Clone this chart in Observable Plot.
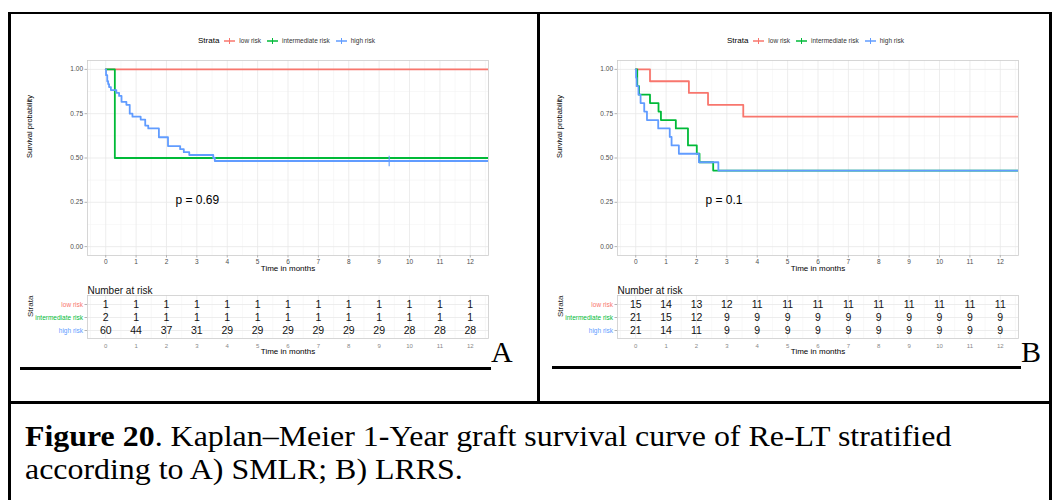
<!DOCTYPE html>
<html><head><meta charset="utf-8">
<script src="https://cdn.jsdelivr.net/npm/d3@7"></script>
<script src="https://cdn.jsdelivr.net/npm/@observablehq/plot@0.6"></script>
<style>
body{margin:0;background:#fff;}
#root{position:relative;width:1054px;height:500px;overflow:hidden;font-family:"Liberation Sans",Arial,sans-serif;background:#fff;}
.bar{position:absolute;background:#000;}
.legend{position:absolute;display:flex;align-items:center;white-space:nowrap;color:#1a1a1a;}
.legend .title{font-size:8px;margin-right:5px;color:#000;}
.legend .lab{font-size:6.5px;margin:0 6px 0 4px;color:#333;}
.serif{font-family:"Liberation Serif","Times New Roman",serif;position:absolute;white-space:nowrap;color:#000;}
</style></head><body><div id="root"></div>
<script>
// ---------- data ----------
const strata = ["low risk", "intermediate risk", "high risk"];
const strataColors = ["#F8766D", "#00BA38", "#619CFF"];
const timeTicks = [0,1,2,3,4,5,6,7,8,9,10,11,12];
const survTicks = [0, 0.25, 0.5, 0.75, 1];

// Panel A (SMLR)
const aLowTime = [0, 12.6];
const aLowSurv = [1, 1];
const aIntTime = [0, 0.3, 12.6];
const aIntSurv = [1, 0.5, 0.5];
const aHighTime = [0, 0.01, 0.05, 0.08, 0.11, 0.17, 0.35, 0.44, 0.52, 0.68, 0.79, 0.88, 1.15, 1.30, 1.40, 1.75, 2.05, 2.45, 2.57, 2.75, 3.54, 3.59, 12.6];
const aHighSurv = [1, 0.967, 0.933, 0.917, 0.9, 0.883, 0.867, 0.85, 0.817, 0.8, 0.75, 0.733, 0.717, 0.683, 0.667, 0.617, 0.567, 0.55, 0.533, 0.517, 0.5, 0.483, 0.483];
const aCensorTime = [9.33];
const aCensorSurv = [0.483];
const aCensorStrata = ["high risk"];
const aPLabel = "p = 0.69";
const aRiskLow = [1,1,1,1,1,1,1,1,1,1,1,1,1];
const aRiskInt = [2,1,1,1,1,1,1,1,1,1,1,1,1];
const aRiskHigh = [60,44,37,31,29,29,29,29,29,29,28,28,28];

// Panel B (LRRS)
const bLowTime = [0, 0.47, 1.75, 2.38, 3.54, 12.6];
const bLowSurv = [1, 0.933, 0.867, 0.8, 0.733, 0.733];
const bIntTime = [0, 0.05, 0.11, 0.47, 0.75, 0.83, 1.32, 1.72, 2.01, 2.1, 2.55, 12.6];
const bIntSurv = [1, 0.905, 0.857, 0.81, 0.762, 0.714, 0.667, 0.571, 0.524, 0.476, 0.429, 0.429];
const bHighTime = [0, 0.01, 0.03, 0.09, 0.16, 0.28, 0.37, 0.74, 1.12, 1.18, 1.42, 2.08, 2.72, 12.6];
const bHighSurv = [1, 0.952, 0.905, 0.857, 0.81, 0.762, 0.714, 0.667, 0.619, 0.571, 0.524, 0.476, 0.429, 0.429];
const bCensorTime = [];
const bCensorSurv = [];
const bCensorStrata = [];
const bPLabel = "p = 0.1";
const bRiskLow = [15,14,13,12,11,11,11,11,11,11,11,11,11];
const bRiskInt = [21,15,12,9,9,9,9,9,9,9,9,9,9];
const bRiskHigh = [21,14,11,9,9,9,9,9,9,9,9,9,9];

// ---------- helpers ----------
const root = document.getElementById("root");
function place(el, left, top) {
  el.style.position = "absolute";
  el.style.left = left + "px";
  el.style.top = top + "px";
  root.appendChild(el);
  return el;
}
function bar(l, t, w, h) {
  const d = document.createElement("div");
  d.className = "bar";
  d.style.left = l + "px"; d.style.top = t + "px"; d.style.width = w + "px"; d.style.height = h + "px";
  root.appendChild(d);
}
const minorX = timeTicks.map(d => d - 0.5).concat([12.5]);
const minorY = [0.125, 0.375, 0.625, 0.875];
const FONT = "Liberation Sans, Arial, sans-serif";
const GRID = "#e8e8e8", GRIDMINOR = "#f3f3f3", BORDER = "#cccccc", TICK = "#b3b3b3", TICKTXT = "#4d4d4d";

function kmPlot(curves, censor, pLabel) {
  const rows = [];
  curves.forEach((c, i) => c.time.forEach((t, j) => rows.push({t, s: c.surv[j], g: strata[i]})));
  const cens = censor.time.map((t, j) => ({t, s: censor.surv[j], g: censor.strata[j]}));
  return Plot.plot({
    width: 490, height: 225,
    marginLeft: 77, marginRight: 12, marginTop: 10, marginBottom: 20,
    style: {fontFamily: FONT, fontSize: "6.5px", background: "transparent", overflow: "visible"},
    x: {domain: [-0.6, 12.6]},
    y: {domain: [-0.05, 1.05]},
    color: {domain: strata, range: strataColors},
    marks: [
      Plot.gridX(minorX, {stroke: GRIDMINOR, strokeOpacity: 1, strokeWidth: 0.6}),
      Plot.gridY(minorY, {stroke: GRIDMINOR, strokeOpacity: 1, strokeWidth: 0.6}),
      Plot.gridX(timeTicks, {stroke: GRID, strokeOpacity: 1, strokeWidth: 0.8}),
      Plot.gridY(survTicks, {stroke: GRID, strokeOpacity: 1, strokeWidth: 0.8}),
      Plot.frame({stroke: BORDER, strokeWidth: 0.8}),
      Plot.axisX(timeTicks, {tickSize: 2.5, tickPadding: 1.5, stroke: TICK, fill: TICKTXT, label: null, tickFormat: d => String(d)}),
      Plot.axisY(survTicks, {tickSize: 2.5, tickPadding: 2, stroke: TICK, fill: TICKTXT, label: null, tickFormat: d => d.toFixed(2)}),
      Plot.text(["Time in months"], {frameAnchor: "bottom", dy: 15, fontSize: 8, fill: "#000"}),
      Plot.text(["Survival probability"], {frameAnchor: "left", dx: -58, rotate: -90, fontSize: 7.5, fill: "#000"}),
      Plot.line(rows, {x: "t", y: "s", z: "g", stroke: "g", curve: "step-after", strokeWidth: 1.8, clip: true}),
      Plot.dot(cens, {x: "t", y: "s", stroke: "g", symbol: "plus", r: 3.5, strokeWidth: 1.1}),
      Plot.text([pLabel], {frameAnchor: "bottom-left", dx: 88, dy: -52, textAnchor: "start", fontSize: 12, fill: "#000"})
    ]
  });
}

function riskPlot(risks) {
  const rows = [];
  risks.forEach((r, i) => r.forEach((n, j) => rows.push({t: timeTicks[j], g: strata[i], n})));
  return Plot.plot({
    width: 490, height: 85,
    marginLeft: 77, marginRight: 12, marginTop: 17, marginBottom: 25,
    style: {fontFamily: FONT, fontSize: "6.5px", background: "transparent", overflow: "visible"},
    x: {domain: [-0.6, 12.6]},
    y: {type: "point", domain: strata, padding: 0.6},
    color: {domain: strata, range: strataColors},
    marks: [
      Plot.gridX(minorX, {stroke: GRIDMINOR, strokeOpacity: 1, strokeWidth: 0.6}),
      Plot.gridX(timeTicks, {stroke: GRID, strokeOpacity: 1, strokeWidth: 0.8}),
      Plot.gridY(strata, {stroke: GRID, strokeOpacity: 1, strokeWidth: 0.8}),
      Plot.frame({stroke: BORDER, strokeWidth: 0.8}),
      Plot.axisX(timeTicks, {tickSize: 0, tickPadding: 5, fill: "#888", label: null, tickFormat: d => String(d), fontSize: 6}),
      Plot.axisY(strata, {tickSize: 2.5, stroke: TICK, label: null, tickFormat: () => ""}),
      Plot.text(strata, {y: d => d, frameAnchor: "left", dx: -4.5, textAnchor: "end", fill: d => d, fontSize: 6.5}),
      Plot.text(rows, {x: "t", y: "g", text: "n", fontSize: 10.5, fill: "#111"}),
      Plot.text(["Number at risk"], {frameAnchor: "top-left", dy: -9, textAnchor: "start", fontSize: 10, fill: "#111"}),
      Plot.text(["Time in months"], {frameAnchor: "bottom", dy: 15.5, fontSize: 8, fill: "#000"}),
      Plot.text(["Strata"], {frameAnchor: "left", dx: -57, rotate: -90, fontSize: 8, fill: "#222"})
    ]
  });
}

function legend(left, top) {
  const d = document.createElement("div");
  d.className = "legend";
  let html = '<span class="title">Strata</span>';
  strata.forEach((s, i) => {
    html += `<svg width="11" height="8"><line x1="0" y1="4" x2="11" y2="4" stroke="${strataColors[i]}" stroke-width="1.5"/><line x1="5.5" y1="1" x2="5.5" y2="7" stroke="${strataColors[i]}" stroke-width="1"/></svg><span class="lab">${s}</span>`;
  });
  d.innerHTML = html;
  place(d, left, top);
}

// ---------- panel A ----------
place(kmPlot(
  [{time: aLowTime, surv: aLowSurv}, {time: aIntTime, surv: aIntSurv}, {time: aHighTime, surv: aHighSurv}],
  {time: aCensorTime, surv: aCensorSurv, strata: aCensorStrata}, aPLabel), 10, 50);
place(riskPlot([aRiskLow, aRiskInt, aRiskHigh]), 10, 278);
legend(198, 36);

// ---------- panel B ----------
place(kmPlot(
  [{time: bLowTime, surv: bLowSurv}, {time: bIntTime, surv: bIntSurv}, {time: bHighTime, surv: bHighSurv}],
  {time: bCensorTime, surv: bCensorSurv, strata: bCensorStrata}, bPLabel), 540, 50);
place(riskPlot([bRiskLow, bRiskInt, bRiskHigh]), 540, 278);
legend(727, 36);

// ---------- frame, underlines, letters, caption ----------
bar(8, 12, 1044, 2);
bar(8, 12, 3, 488);
bar(1049, 12, 3, 488);
bar(537, 12, 3, 390);
bar(8, 401, 1044, 3);
bar(20, 367, 471, 3);
bar(552, 366, 469, 3);

const la = document.createElement("div"); la.className = "serif"; la.style.fontSize = "30px"; la.style.lineHeight = "30px"; la.textContent = "A"; place(la, 491, 337);
const lb = document.createElement("div"); lb.className = "serif"; lb.style.fontSize = "30px"; lb.style.lineHeight = "30px"; lb.textContent = "B"; place(lb, 1021, 337);

const cap1 = document.createElement("div");
cap1.className = "serif";
cap1.style.fontSize = "29px";
cap1.style.lineHeight = "31px";
cap1.style.transformOrigin = "left top";
cap1.style.transform = "scaleX(1.1)";
cap1.innerHTML = "<b>Figure 20</b>. Kaplan–Meier 1-Year graft survival curve of Re-LT stratified";
place(cap1, 25, 421);
const cap2 = document.createElement("div");
cap2.className = "serif";
cap2.style.fontSize = "29px";
cap2.style.lineHeight = "31px";
cap2.style.transformOrigin = "left top";
cap2.style.transform = "scaleX(1.1)";
cap2.textContent = "according to A) SMLR; B) LRRS.";
place(cap2, 25, 454);
</script></body></html>
